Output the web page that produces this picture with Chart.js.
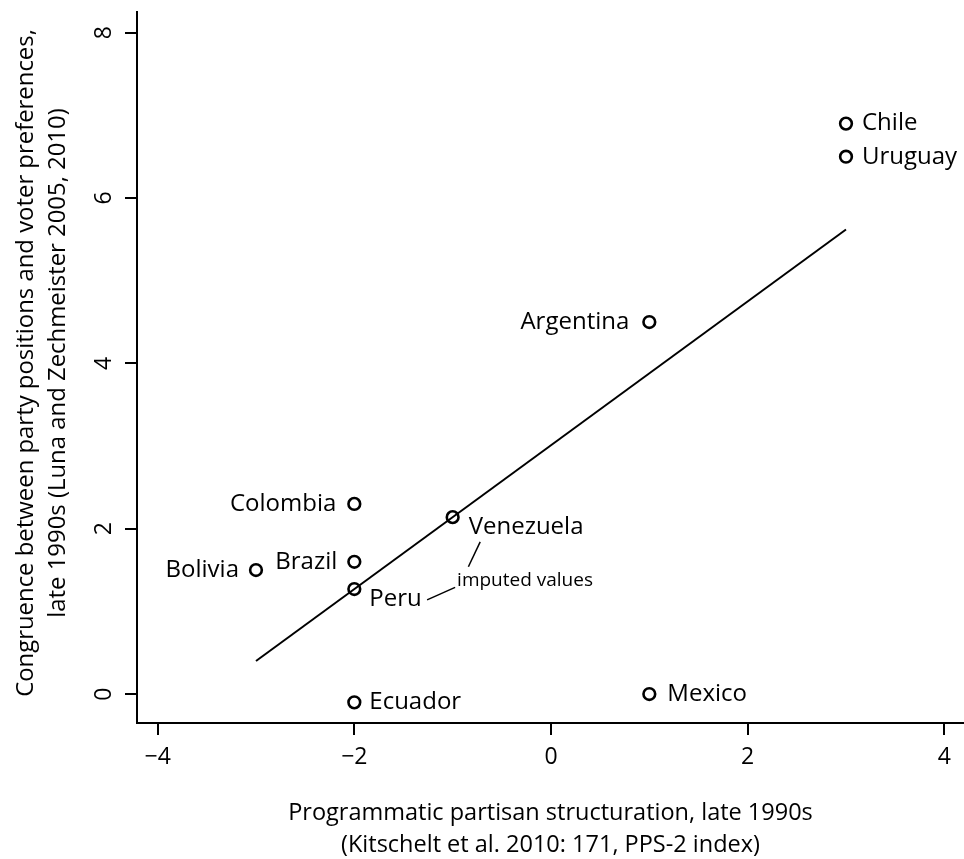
<!DOCTYPE html>
<html>
<head>
<meta charset="utf-8">
<script src="https://cdn.jsdelivr.net/npm/chart.js@4.4.1/dist/chart.umd.min.js"></script>
<style>
html,body{margin:0;padding:0;background:#fff;overflow:hidden}
#wrap{width:964px;height:859px;position:relative}
</style>
</head>
<body>
<div id="wrap"><canvas id="Chart"></canvas></div>
<script>
// data
let countries = ['Chile','Uruguay','Argentina','Colombia','Venezuela','Brazil','Bolivia','Peru','Ecuador','Mexico']
let pps = [3, 3, 1, -2, -1, -2, -3, -2, -2, 1]
let congruence = [6.9, 6.5, 4.5, 2.3, 2.14, 1.6, 1.5, 1.27, -0.1, 0]
let fitX = [-3, 3]
let fitY = [0.4, 5.62]
let xTicks = [-4, -2, 0, 2, 4]
let yTicks = [0, 2, 4, 6, 8]
let xTitle = ['Programmatic partisan structuration, late 1990s', '(Kitschelt et al. 2010: 171, PPS-2 index)']
let yTitle = ['Congruence between party positions and voter preferences,', 'late 1990s (Luna and Zechmeister 2005, 2010)']
let note = 'imputed values'
let noteAt = [-0.955, 1.37]
let venLink = [[-0.72, 1.84], [-0.84, 1.54]]
let peruLink = [[-1.26, 1.14], [-0.975, 1.29]]

const FONT = '"Open Sans", "Noto Sans", sans-serif'

// where each name sits next to its point: side, gap, shift down (px)
const place = {
	Chile: ['r', 16, 0], Uruguay: ['r', 16, 0], Argentina: ['l', 20, 0],
	Colombia: ['l', 18, 0], Venezuela: ['r', 16, 10], Brazil: ['l', 17, 0],
	Bolivia: ['l', 17, 0], Peru: ['r', 15, 10], Ecuador: ['r', 15, 0], Mexico: ['r', 18, 0]
}

function pts(xs, ys){
	return xs.map((x, i) => ({x: x, y: ys[i]}))
}

// font size that makes a line as wide as it is in the picture
function fitSize(ctx, text, width){
	ctx.font = '20px ' + FONT
	return 20 * width / ctx.measureText(text).width
}

const textPlugin = {
	id: 'texts',
	afterDraw(chart){
		const ctx = chart.ctx
		const xs = chart.scales.x, ys = chart.scales.y
		const area = chart.chartArea
		ctx.save()
		ctx.fillStyle = '#000'
		ctx.textBaseline = 'middle'

		// tick labels
		ctx.font = '23px ' + FONT
		ctx.textAlign = 'center'
		xTicks.forEach(v => {
			ctx.fillText(String(v).replace('-', '\u2212'), xs.getPixelForValue(v), area.bottom + 34)
		})
		yTicks.forEach(v => {
			ctx.save()
			ctx.translate(area.left - 33, ys.getPixelForValue(v))
			ctx.rotate(-Math.PI / 2)
			ctx.fillText(String(v), 0, 0)
			ctx.restore()
		})

		// axis titles
		const cx = (area.left + area.right) / 2
		ctx.font = fitSize(ctx, xTitle[0], 524).toFixed(1) + 'px ' + FONT
		ctx.fillText(xTitle[0], cx, 813)
		ctx.fillText(xTitle[1], cx, 845)
		ctx.font = fitSize(ctx, yTitle[0], 669).toFixed(1) + 'px ' + FONT
		ctx.save()
		ctx.translate(26, 363)
		ctx.rotate(-Math.PI / 2)
		ctx.fillText(yTitle[0], 0, 0)
		ctx.fillText(yTitle[1], 0, 32)
		ctx.restore()

		// country names
		ctx.font = '24px ' + FONT
		countries.forEach((name, i) => {
			const p = place[name]
			const px = xs.getPixelForValue(pps[i])
			const py = ys.getPixelForValue(congruence[i])
			ctx.textAlign = p[0] == 'r' ? 'left' : 'right'
			ctx.fillText(name, p[0] == 'r' ? px + p[1] : px - p[1], py + p[2])
		})

		// note
		ctx.font = '19px ' + FONT
		ctx.textAlign = 'left'
		ctx.fillText(note, xs.getPixelForValue(noteAt[0]), ys.getPixelForValue(noteAt[1]))
		ctx.restore()
	}
}

const axisStyle = {
	border: {display: true, color: '#000', width: 2},
	grid: {display: true, drawOnChartArea: false, drawTicks: true, tickLength: 12, color: '#000', lineWidth: 2},
	ticks: {display: false}
}

new Chart('Chart', {
	type: 'scatter',
	data: {
		datasets: [
			{
				data: pts(pps, congruence),
				pointRadius: 5.85,
				pointBorderWidth: 2.6,
				borderColor: '#000',
				backgroundColor: 'rgba(0,0,0,0)'
			},
			{
				type: 'line',
				data: pts(fitX, fitY),
				borderColor: '#000',
				borderWidth: 2,
				pointRadius: 0
			},
			{
				type: 'line',
				data: venLink.map(p => ({x: p[0], y: p[1]})),
				borderColor: '#000',
				borderWidth: 1.5,
				pointRadius: 0
			},
			{
				type: 'line',
				data: peruLink.map(p => ({x: p[0], y: p[1]})),
				borderColor: '#000',
				borderWidth: 1.5,
				pointRadius: 0
			}
		]
	},
	options: {
		responsive: true,
		maintainAspectRatio: false,
		animation: false,
		layout: {autoPadding: false, padding: {left: 125, right: 0, top: 12, bottom: 124}},
		plugins: {legend: {display: false}, tooltip: {enabled: false}},
		scales: {
			x: Object.assign({type: 'linear', min: -4.21, max: 4.2,
				afterBuildTicks: s => { s.ticks = xTicks.map(v => ({value: v})) }}, axisStyle),
			y: Object.assign({type: 'linear', min: -0.35, max: 8.25,
				afterBuildTicks: s => { s.ticks = yTicks.map(v => ({value: v})) }}, axisStyle)
		}
	},
	plugins: [textPlugin]
})
</script>
</body>
</html>
